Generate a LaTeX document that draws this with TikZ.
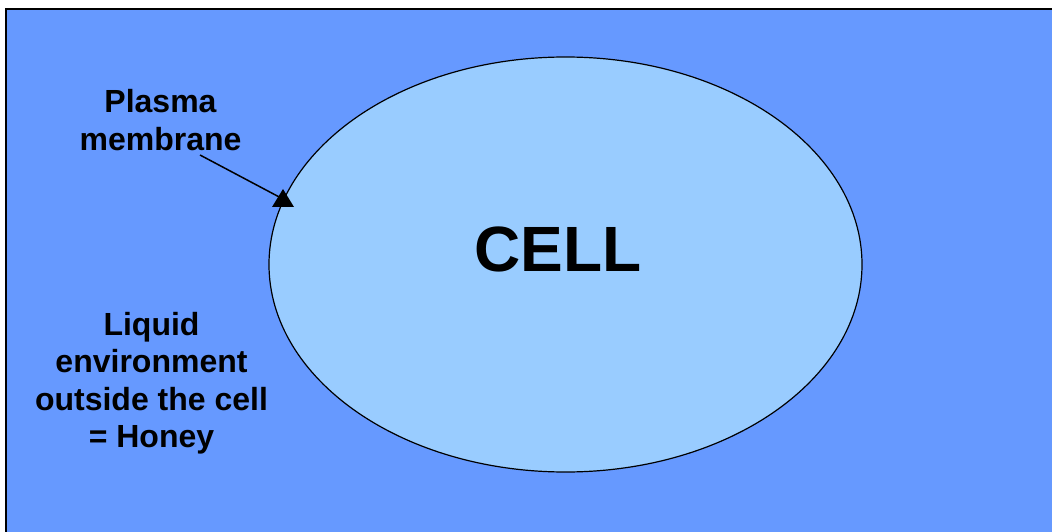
\documentclass[tikz,border=0pt]{standalone}
\usepackage{fontspec}
\setmainfont{Liberation Sans}
\usetikzlibrary{shapes.geometric}
\definecolor{outerblue}{HTML}{6699FF}
\definecolor{cellblue}{HTML}{99CCFF}
\begin{document}
\begin{tikzpicture}[x=1pt,y=1pt,
  label text/.style={font=\bfseries\fontsize{32}{37.5}\selectfont, align=center, inner sep=0pt},
  pointer/.style={line width=1.5pt}]
\useasboundingbox (0,0) rectangle (1052,531);
\begin{scope}
\clip (0,0) rectangle (1052,531);
\fill[outerblue] (6,-20) rectangle (1070,522);
\draw[black, line width=2pt] (6,-20) -- (6,522) -- (1070,522);
\end{scope}
\node[draw=black, line width=1.2pt, fill=cellblue,
      ellipse, minimum width=593pt, minimum height=415pt, inner sep=0pt] (cell) at (565.5,266.5) {};
\node[font=\bfseries\fontsize{64}{64}\selectfont, inner sep=0pt, anchor=base] (celltext) at (558,260) {CELL};
\node[label text] (pm) at (160.5,411) {Plasma\\membrane};
\node[label text] (liquid) at (151.5,148) {Liquid\\environment\\outside the cell\\= Honey};
\coordinate (start) at (200,376);
\coordinate (tip) at (283,332);
\draw[pointer] (start) -- (tip);
\fill[black] (283,342) -- (272,324) -- (294,324) -- cycle;
\end{tikzpicture}
\end{document}
